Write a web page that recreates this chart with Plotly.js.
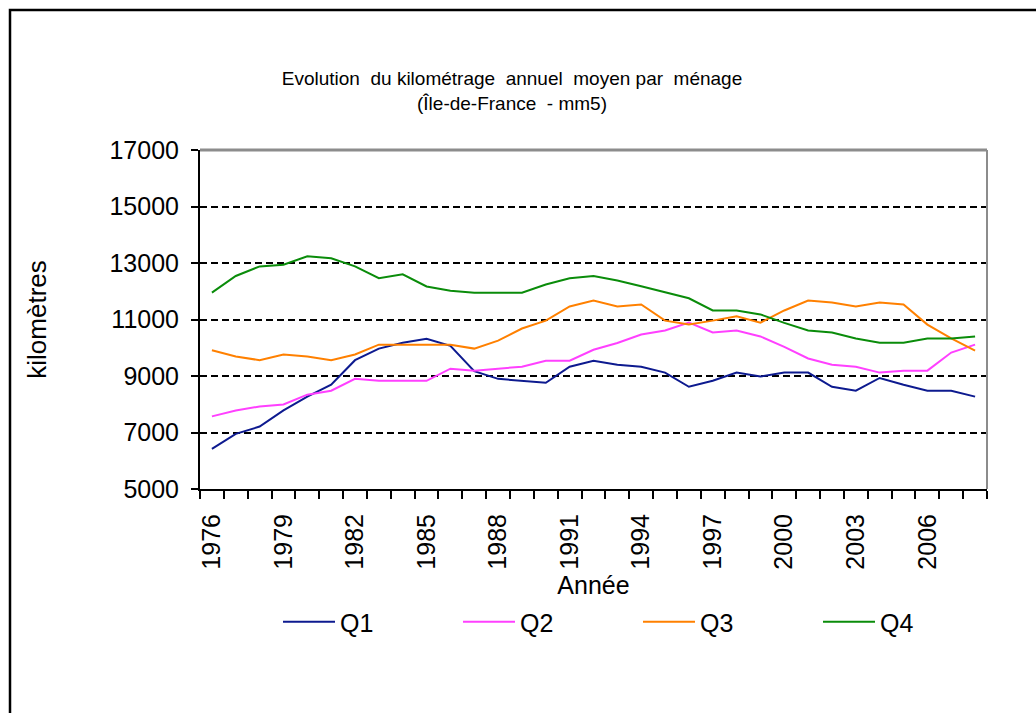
<!DOCTYPE html>
<html>
<head>
<meta charset="utf-8">
<script src="https://cdn.plot.ly/plotly-3.0.1.min.js"></script>
<style>
  html, body { margin: 0; padding: 0; background: #ffffff; }
  #chart { width: 1036px; height: 713px; }
</style>
</head>
<body>
<div id="chart"></div>
<script>
const years = [1976,1977,1978,1979,1980,1981,1982,1983,1984,1985,1986,1987,1988,1989,1990,1991,1992,1993,1994,1995,1996,1997,1998,1999,2000,2001,2002,2003,2004,2005,2006,2007,2008];
const labelYears = [1976,1979,1982,1985,1988,1991,1994,1997,2000,2003,2006];
const labelText = labelYears.map(String);

const q1 = [6420,6950,7210,7780,8270,8690,9560,9970,10180,10320,10070,9170,8900,8830,8760,9330,9540,9400,9330,9120,8620,8830,9120,8980,9120,9120,8620,8480,8930,8690,8480,8480,8270];
const q2 = [7570,7780,7920,7990,8340,8480,8900,8830,8830,8830,9260,9190,9260,9330,9540,9540,9930,10170,10470,10610,10890,10540,10610,10400,10030,9620,9400,9330,9120,9190,9190,9830,10110];
const q3 = [9910,9690,9560,9760,9690,9560,9760,10110,10110,10110,10110,9970,10250,10680,10960,11460,11670,11460,11530,10960,10820,10960,11110,10890,11320,11670,11600,11460,11600,11530,10820,10330,9900];
const q4 = [11950,12540,12880,12940,13240,13170,12880,12460,12600,12170,12020,11950,11950,11950,12240,12460,12540,12380,12180,11970,11750,11320,11320,11180,10880,10610,10540,10330,10180,10180,10330,10330,10400];

const seriesNames = ['Q1','Q2','Q3','Q4'];
const seriesData = [q1,q2,q3,q4];
const seriesColors = ['#0d1a8f','#ff40ff','#ff8000','#0a8c0a'];

const traces = seriesData.map((vals, i) => ({
  type: 'scatter',
  mode: 'lines',
  name: seriesNames[i],
  x: years,
  y: vals,
  line: { color: seriesColors[i], width: 2 },
  hoverinfo: 'x+y+name'
}));

const FONT = 'Liberation Sans, Arial, sans-serif';

// plot area in pixels: left 200, right 987, top 150, bottom 489
const L = 200, R = 987, T = 150, B = 489;
function px2paperX(p) { return (p - L) / (R - L); }
function px2paperY(p) { return (B - p) / (B - T); }

const layout = {
  width: 1036,
  height: 713,
  paper_bgcolor: '#ffffff',
  plot_bgcolor: '#ffffff',
  margin: { l: L, r: 1036 - R, t: T, b: 713 - B, pad: 0 },
  font: { family: FONT, color: '#000000', size: 24 },
  showlegend: true,
  title: {
    text: 'Evolution  du kilométrage  annuel  moyen par  ménage<br>(Île-de-France  - mm5)',
    font: { family: FONT, size: 19, color: '#000000' },
    xref: 'container', x: 512 / 1036, xanchor: 'center',
    yref: 'container', y: 1 - 85 / 713, yanchor: 'top'
  },
  xaxis: {
    type: 'linear',
    range: [1975.5, 2008.5],
    tickmode: 'array',
    tickvals: labelYears,
    ticktext: labelText,
    ticks: '',
    tickangle: -90,
    ticklabelstandoff: 13,
    tickfont: { family: FONT, size: 25, color: '#000000' },
    minor: { tickmode: 'linear', tick0: 1975.5, dtick: 1, ticks: 'outside', ticklen: 8, tickwidth: 2, tickcolor: '#000000', showgrid: false },
    showgrid: false,
    zeroline: false,
    showline: true,
    linecolor: '#000000',
    linewidth: 2,
    title: { text: 'Année', font: { family: FONT, size: 25, color: '#000000' }, standoff: 22 },
    automargin: false,
    fixedrange: true
  },
  yaxis: {
    range: [5000, 17000],
    tickmode: 'linear',
    tick0: 5000,
    dtick: 2000,
    tickformat: 'd',
    ticks: 'outside',
    ticklen: 7,
    tickwidth: 2,
    tickcolor: '#000000',
    ticklabelstandoff: 7,
    tickfont: { family: FONT, size: 25, color: '#000000' },
    showgrid: true,
    gridcolor: '#000000',
    gridwidth: 2,
    griddash: '7px,4px',
    zeroline: false,
    showline: true,
    linecolor: '#000000',
    linewidth: 2,
    title: { text: 'kilomètres', font: { family: FONT, size: 26, color: '#000000' }, standoff: 55 },
    automargin: false,
    fixedrange: true
  },
  legend: {
    orientation: 'h',
    xref: 'container', yref: 'container',
    x: 278 / 1036, xanchor: 'left',
    y: 1 - 599 / 713, yanchor: 'top',
    bgcolor: 'rgba(255,255,255,1)',
    borderwidth: 0,
    entrywidth: 113,
    entrywidthmode: 'pixels',
    itemwidth: 52,
    font: { family: FONT, size: 25, color: '#000000' },
    traceorder: 'normal'
  },
  shapes: [
    { type: 'line', xref: 'paper', yref: 'paper', x0: 0, x1: 1, y0: 1, y1: 1, line: { color: '#8c8c8c', width: 3 }, layer: 'above' },
    { type: 'line', xref: 'paper', yref: 'paper', x0: 1, x1: 1, y0: 0, y1: 1, line: { color: '#8c8c8c', width: 2 }, layer: 'above' },
    { type: 'rect', xref: 'paper', yref: 'paper', x0: px2paperX(10), x1: px2paperX(1045), y0: px2paperY(10), y1: px2paperY(730), line: { color: '#000000', width: 2.5 }, fillcolor: 'rgba(0,0,0,0)', layer: 'above' }
  ]
};

Plotly.newPlot('chart', traces, layout, { displayModeBar: false, staticPlot: true });
</script>
</body>
</html>
